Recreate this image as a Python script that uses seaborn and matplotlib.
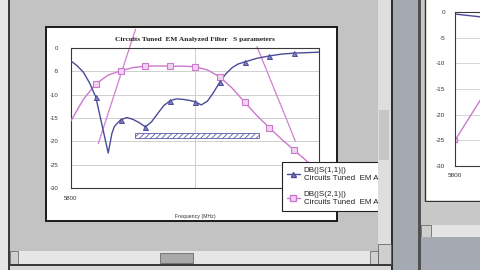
import numpy as np
import pandas as pd
import matplotlib
matplotlib.use("Agg")
import matplotlib.pyplot as plt
from matplotlib.patches import Rectangle
from matplotlib.lines import Line2D
import seaborn as sns

# ---------------- data ----------------
freq = [5800, 5805, 5810, 5815, 5820, 5825, 5830, 5833, 5835, 5840, 5845, 5850, 5855,
        5860, 5865, 5870, 5875, 5880, 5885, 5890, 5895, 5900, 5905, 5910, 5915, 5920,
        5925, 5930, 5935, 5940, 5950, 5960, 5970, 5980, 5990, 6000]
s11_db = [-2.8, -3.8, -5.2, -7.5, -10.5, -16.5, -22.5, -18.3, -16.8, -15.4, -14.9, -15.3, -16.0,
          -16.9, -15.8, -14.0, -12.3, -11.3, -10.9, -11.0, -11.2, -11.5, -12.2, -11.4, -9.5, -7.3,
          -5.5, -4.2, -3.4, -3.0, -2.2, -1.7, -1.3, -1.1, -1.0, -0.9]

freq21 = [5800, 5810, 5820, 5830, 5840, 5850, 5860, 5870, 5880, 5890, 5900, 5910,
          5920, 5930, 5940, 5950, 5960, 5970, 5980, 5990, 6000]
s21_db = [-15.6, -11.0, -7.7, -5.8, -4.9, -4.2, -3.9, -3.85, -3.9, -3.9, -4.0, -4.7,
          -6.2, -8.6, -11.6, -14.5, -17.1, -19.6, -21.9, -24.2, -26.5]

marker_freqs = [5820, 5840, 5860, 5880, 5900, 5920, 5940, 5960, 5980]

spec1_x = [5822, 5852]
spec1_y = [-20.5, 4.0]
spec2_x = [5950, 5981]
spec2_y = [0.3, -20.0]
mask_x = [5852, 5952]
mask_y = [-19.3, -18.2]

yticks = [0, -5, -10, -15, -20, -25, -30]
ytick_labels = ["0", "-5", "-10", "-15", "-20", "-25", "-30"]
xtick_labels = ["5800", "", ""]

title = "Circuits Tuned  EM Analyzed Filter   S parameters"
xlabel = "Frequency (MHz)"
legend_labels = ["DB(|S(1,1)|)\nCircuits Tuned  EM Analyzed",
                 "DB(|S(2,1)|)\nCircuits Tuned  EM Analyzed"]

# second (partially visible) chart on the right
right_freq = [5800, 5830]
right_s11 = [-0.4, -1.2]
right_s21 = [-25.0, -13.5]

# ---------------- style ----------------
sns.set_theme(style="white")
plt.rcParams["font.family"] = ["Liberation Sans", "DejaVu Sans"]
plt.rcParams["hatch.linewidth"] = 0.6

C11 = "#4b4b98"
C21 = "#cc78cc"
CSPEC = "#dc96dc"

W, H = 480, 270
fig = plt.figure(figsize=(4.8, 2.7), dpi=100)
fig.patch.set_facecolor("#c3c3c3")


def rect(x0, y0, x1, y1, fc, z=-1, ec="none", lw=0):
    r = Rectangle((x0 / W, 1 - y1 / H), (x1 - x0) / W, (y1 - y0) / H,
                  transform=fig.transFigure, facecolor=fc, edgecolor=ec,
                  linewidth=lw, zorder=z)
    fig.patches.append(r)
    return r


# window decorations (background)
rect(0, 0, 8, 270, "#e6e6e6", -2)
rect(8, 0, 10, 270, "#3a3a3a", -2)
# main white chart panel
rect(46, 27, 337, 221, "white", -1, ec="#1a1a1a", lw=1.4)
# second window
rect(420, 0, 480, 270, "#c8c8c8", -2)
rect(425, -5, 485, 201, "white", -1, ec="#333333", lw=1.0)

# ---------------- main chart ----------------
ax = fig.add_axes([71 / W, 1 - 188 / H, 248 / W, 140 / H])
ax.set_facecolor("none")

df11 = pd.DataFrame({"freq": freq, "db": s11_db})
df21 = pd.DataFrame({"freq": freq21, "db": s21_db})
m11 = df11[df11["freq"].isin(marker_freqs)]
m21 = df21[df21["freq"].isin(marker_freqs)]

for yv in yticks[1:-1]:
    ax.axhline(yv, color="#cfcfcf", lw=0.7, zorder=0)
ax.axvline(5900, color="#cfcfcf", lw=0.7, zorder=0)

# spec lines
for sx, sy in ((spec1_x, spec1_y), (spec2_x, spec2_y)):
    ax.plot(sx, sy, color=CSPEC, lw=1.0, clip_on=False, zorder=2)
    ax.plot(sx, sy, color="#a050a0", lw=0.5, ls=(0, (1, 3)), clip_on=False, zorder=2)

# hatched mask
ax.add_patch(Rectangle((mask_x[0], mask_y[0]), mask_x[1] - mask_x[0], mask_y[1] - mask_y[0],
                       facecolor="white", edgecolor="#5a5aa8", hatch="//////", lw=0.6, zorder=2))

sns.lineplot(data=df21, x="freq", y="db", ax=ax, color=C21, lw=1.0, zorder=3)
sns.lineplot(data=df11, x="freq", y="db", ax=ax, color=C11, lw=1.0, zorder=4)
ax.plot(m21["freq"], m21["db"], ls="none", marker="s", ms=4.2, mfc="#f2d2f2",
        mec=C21, mew=0.8, zorder=5)
ax.plot(m11["freq"], m11["db"], ls="none", marker="^", ms=3.6, mfc="#8080c0",
        mec=C11, mew=0.7, zorder=6)

ax.set_xlim(5800, 6000)
ax.set_ylim(-30, 0)
ax.set_yticks(yticks)
ax.set_yticklabels(ytick_labels)
ax.set_xticks([5800, 5900, 6000])
ax.set_xticklabels(xtick_labels)
ax.tick_params(axis="both", length=0, labelsize=4.3, labelcolor="#333333")
ax.tick_params(axis="y", pad=9)
ax.tick_params(axis="x", pad=6)
for s in ax.spines.values():
    s.set_color("#3a3a3a")
    s.set_linewidth(0.8)
ax.set_xlabel(xlabel, fontsize=3.8, color="#333333", labelpad=9)
ax.set_ylabel("")
ax.set_title(title, fontsize=5.3, fontweight="bold", family=["Liberation Serif"],
             color="#222222", pad=5)

handles = [Line2D([], [], color=C11, lw=1.0, marker="^", ms=3.6, mfc="#8080c0", mec=C11),
           Line2D([], [], color=C21, lw=1.0, marker="s", ms=4.0, mfc="#f2d2f2", mec=C21)]
leg = ax.legend(handles, legend_labels, loc="upper left",
                bbox_to_anchor=(282 / W, 1 - 162 / H), bbox_transform=fig.transFigure,
                borderaxespad=0, fontsize=5.8, frameon=True, fancybox=False,
                edgecolor="#222222", framealpha=1, handlelength=1.6, handletextpad=0.5,
                labelspacing=1.15, borderpad=0.6)
leg.get_frame().set_linewidth(0.8)
for t in leg.get_texts():
    t.set_color("#222222")
    t.set_linespacing(1.2)

# ---------------- second chart (partially visible) ----------------
ax2 = fig.add_axes([455 / W, 1 - 166 / H, 248 / W, 154 / H])
ax2.set_facecolor("none")
for yv in yticks[1:-1]:
    ax2.axhline(yv, color="#d5d5d5", lw=0.7, zorder=0)
dfr = pd.DataFrame({"freq": right_freq, "s11": right_s11, "s21": right_s21})
sns.lineplot(data=dfr, x="freq", y="s21", ax=ax2, color=C21, lw=1.0)
sns.lineplot(data=dfr, x="freq", y="s11", ax=ax2, color=C11, lw=1.0)
ax2.plot(right_freq[:1], right_s21[:1], ls="none", marker="s", ms=3, mfc="#f2d2f2", mec=C21)
ax2.set_xlim(5800, 6000)
ax2.set_ylim(-30, 0)
ax2.set_yticks(yticks)
ax2.set_yticklabels(ytick_labels)
ax2.set_xticks([5800])
ax2.set_xticklabels(["5800"])
ax2.tick_params(axis="both", length=0, labelsize=4.6, labelcolor="#333333")
ax2.tick_params(axis="y", pad=7)
ax2.tick_params(axis="x", pad=5)
ax2.set_xlabel("")
ax2.set_ylabel("")
for s in ax2.spines.values():
    s.set_color("#3a3a3a")
    s.set_linewidth(0.8)

# ---------------- foreground window chrome ----------------
rect(378, 0, 391, 250, "#dedede", 2)
rect(379, 110, 389, 160, "#c6c6c6", 2)
rect(391, 0, 393, 270, "#2e2e2e", 2)
rect(393, 0, 420, 270, "#a5a9b2", 2)
rect(418, 0, 421, 270, "#505050", 2)
rect(421, 201.5, 480, 225, "#c8c8c8", 2)
rect(421, 225, 480, 237, "#e4e4e4", 2)
rect(421, 225, 431, 237, "#cfcfcf", 2, ec="#555555", lw=0.5)
rect(421, 237, 480, 270, "#a5a9b2", 2)
rect(10, 251, 378, 264, "#e6e6e6", 2)
rect(10, 251, 18, 264, "#d0d0d0", 2, ec="#555555", lw=0.5)
rect(160, 253, 193, 263, "#a9a9a9", 2, ec="#555555", lw=0.5)
rect(370, 251, 378, 264, "#d0d0d0", 2, ec="#555555", lw=0.5)
rect(378, 244, 391, 264, "#cfcfcf", 2, ec="#555555", lw=0.5)
rect(10, 264, 391, 266, "#3a3a3a", 2)
rect(10, 266, 391, 270, "#d8d8d8", 2)

fig.savefig("out.png", dpi=100, facecolor=fig.get_facecolor())
